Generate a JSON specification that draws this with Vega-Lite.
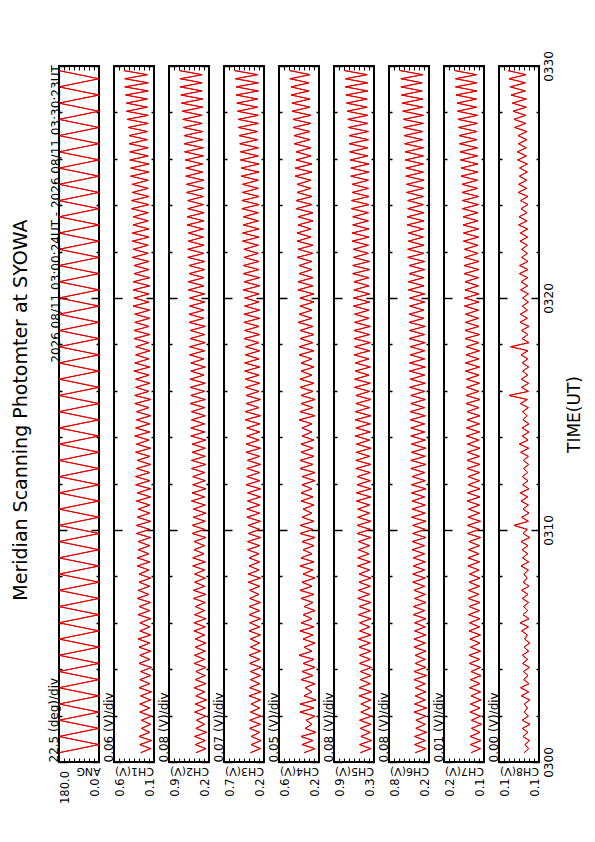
{
"$schema": "https://vega.github.io/schema/vega-lite/v6.json",
"padding": {"left": 12, "top": 49, "right": 5, "bottom": 5},
"bounds": "flush",
"spacing": 15,
"title": {"text": "Meridian Scanning Photomter at SYOWA", "orient": "left", "anchor": "middle", "font": "DejaVu Sans", "fontSize": 19, "fontWeight": "normal", "color": "black", "offset": 15, "dx": 17},
"data": {"values": [
{"t":0.40,"a":180,"c1":0.26,"c2":0.45,"c3":0.37,"c4":0.35,"c5":0.48,"c6":0.40,"c7":0.146,"c8":0.1090},
{"t":0.575,"a":90,"c1":0.14,"c2":0.29,"c3":0.23,"c4":0.24,"c5":0.31,"c6":0.23,"c7":0.127,"c8":0.1062},
{"t":0.75,"a":0,"c1":0.27,"c2":0.46,"c3":0.36,"c4":0.37,"c5":0.49,"c6":0.41,"c7":0.147,"c8":0.1084},
{"t":0.925,"a":90,"c1":0.13,"c2":0.30,"c3":0.22,"c4":0.26,"c5":0.30,"c6":0.24,"c7":0.126,"c8":0.1058},
{"t":1.10,"a":180,"c1":0.28,"c2":0.47,"c3":0.36,"c4":0.38,"c5":0.47,"c6":0.41,"c7":0.148,"c8":0.1096},
{"t":1.275,"a":90,"c1":0.15,"c2":0.28,"c3":0.24,"c4":0.23,"c5":0.32,"c6":0.22,"c7":0.128,"c8":0.1066},
{"t":1.45,"a":0,"c1":0.25,"c2":0.45,"c3":0.38,"c4":0.34,"c5":0.48,"c6":0.39,"c7":0.145,"c8":0.1100},
{"t":1.625,"a":90,"c1":0.14,"c2":0.31,"c3":0.23,"c4":0.27,"c5":0.31,"c6":0.24,"c7":0.125,"c8":0.1054},
{"t":1.80,"a":180,"c1":0.25,"c2":0.44,"c3":0.38,"c4":0.33,"c5":0.49,"c6":0.39,"c7":0.145,"c8":0.1102},
{"t":1.975,"a":90,"c1":0.13,"c2":0.29,"c3":0.22,"c4":0.24,"c5":0.30,"c6":0.23,"c7":0.127,"c8":0.1064},
{"t":2.15,"a":0,"c1":0.27,"c2":0.47,"c3":0.37,"c4":0.39,"c5":0.47,"c6":0.42,"c7":0.148,"c8":0.1088},
{"t":2.325,"a":90,"c1":0.15,"c2":0.30,"c3":0.24,"c4":0.25,"c5":0.32,"c6":0.22,"c7":0.128,"c8":0.1070},
{"t":2.50,"a":180,"c1":0.27,"c2":0.46,"c3":0.36,"c4":0.39,"c5":0.47,"c6":0.41,"c7":0.147,"c8":0.1088},
{"t":2.675,"a":90,"c1":0.14,"c2":0.28,"c3":0.23,"c4":0.23,"c5":0.31,"c6":0.24,"c7":0.126,"c8":0.1056},
{"t":2.85,"a":0,"c1":0.26,"c2":0.45,"c3":0.39,"c4":0.35,"c5":0.50,"c6":0.40,"c7":0.146,"c8":0.1106},
{"t":3.025,"a":90,"c1":0.13,"c2":0.31,"c3":0.22,"c4":0.27,"c5":0.30,"c6":0.23,"c7":0.127,"c8":0.1062},
{"t":3.20,"a":180,"c1":0.28,"c2":0.48,"c3":0.38,"c4":0.34,"c5":0.50,"c6":0.40,"c7":0.149,"c8":0.1110},
{"t":3.375,"a":90,"c1":0.15,"c2":0.29,"c3":0.24,"c4":0.24,"c5":0.32,"c6":0.24,"c7":0.128,"c8":0.1060},
{"t":3.55,"a":0,"c1":0.27,"c2":0.46,"c3":0.37,"c4":0.38,"c5":0.48,"c6":0.42,"c7":0.147,"c8":0.1092},
{"t":3.725,"a":90,"c1":0.14,"c2":0.30,"c3":0.23,"c4":0.26,"c5":0.31,"c6":0.22,"c7":0.126,"c8":0.1066},
{"t":3.90,"a":180,"c1":0.26,"c2":0.45,"c3":0.37,"c4":0.37,"c5":0.48,"c6":0.42,"c7":0.146,"c8":0.1094},
{"t":4.075,"a":90,"c1":0.13,"c2":0.29,"c3":0.22,"c4":0.24,"c5":0.30,"c6":0.23,"c7":0.127,"c8":0.1058},
{"t":4.25,"a":0,"c1":0.28,"c2":0.48,"c3":0.38,"c4":0.36,"c5":0.49,"c6":0.40,"c7":0.149,"c8":0.1098},
{"t":4.425,"a":90,"c1":0.15,"c2":0.31,"c3":0.24,"c4":0.25,"c5":0.32,"c6":0.24,"c7":0.129,"c8":0.1068},
{"t":4.60,"a":180,"c1":0.27,"c2":0.47,"c3":0.39,"c4":0.40,"c5":0.49,"c6":0.40,"c7":0.150,"c8":0.1100},
{"t":4.775,"a":90,"c1":0.14,"c2":0.30,"c3":0.23,"c4":0.27,"c5":0.31,"c6":0.23,"c7":0.127,"c8":0.1062},
{"t":4.95,"a":0,"c1":0.28,"c2":0.46,"c3":0.37,"c4":0.35,"c5":0.50,"c6":0.42,"c7":0.147,"c8":0.1090},
{"t":5.125,"a":90,"c1":0.15,"c2":0.29,"c3":0.24,"c4":0.24,"c5":0.32,"c6":0.24,"c7":0.128,"c8":0.1056},
{"t":5.30,"a":180,"c1":0.29,"c2":0.46,"c3":0.37,"c4":0.36,"c5":0.51,"c6":0.42,"c7":0.148,"c8":0.1086},
{"t":5.475,"a":90,"c1":0.14,"c2":0.31,"c3":0.23,"c4":0.26,"c5":0.31,"c6":0.23,"c7":0.127,"c8":0.1070},
{"t":5.65,"a":0,"c1":0.27,"c2":0.48,"c3":0.39,"c4":0.39,"c5":0.49,"c6":0.41,"c7":0.150,"c8":0.1104},
{"t":5.825,"a":90,"c1":0.15,"c2":0.30,"c3":0.24,"c4":0.25,"c5":0.33,"c6":0.24,"c7":0.129,"c8":0.1064},
{"t":6.00,"a":180,"c1":0.27,"c2":0.48,"c3":0.38,"c4":0.38,"c5":0.49,"c6":0.41,"c7":0.149,"c8":0.1114},
{"t":6.175,"a":90,"c1":0.14,"c2":0.29,"c3":0.23,"c4":0.27,"c5":0.31,"c6":0.23,"c7":0.128,"c8":0.1060},
{"t":6.35,"a":0,"c1":0.29,"c2":0.47,"c3":0.39,"c4":0.36,"c5":0.51,"c6":0.43,"c7":0.151,"c8":0.1096},
{"t":6.525,"a":90,"c1":0.15,"c2":0.31,"c3":0.24,"c4":0.24,"c5":0.32,"c6":0.25,"c7":0.129,"c8":0.1068},
{"t":6.70,"a":180,"c1":0.28,"c2":0.46,"c3":0.39,"c4":0.35,"c5":0.50,"c6":0.43,"c7":0.150,"c8":0.1092},
{"t":6.875,"a":90,"c1":0.14,"c2":0.30,"c3":0.23,"c4":0.26,"c5":0.31,"c6":0.23,"c7":0.128,"c8":0.1062},
{"t":7.05,"a":0,"c1":0.30,"c2":0.49,"c3":0.38,"c4":0.38,"c5":0.52,"c6":0.41,"c7":0.152,"c8":0.1100},
{"t":7.225,"a":90,"c1":0.16,"c2":0.29,"c3":0.25,"c4":0.25,"c5":0.33,"c6":0.24,"c7":0.130,"c8":0.1066},
{"t":7.40,"a":180,"c1":0.29,"c2":0.49,"c3":0.38,"c4":0.39,"c5":0.51,"c6":0.42,"c7":0.151,"c8":0.1104},
{"t":7.575,"a":90,"c1":0.15,"c2":0.31,"c3":0.24,"c4":0.27,"c5":0.32,"c6":0.25,"c7":0.129,"c8":0.1060},
{"t":7.75,"a":0,"c1":0.28,"c2":0.47,"c3":0.40,"c4":0.37,"c5":0.50,"c6":0.44,"c7":0.150,"c8":0.1094},
{"t":7.925,"a":90,"c1":0.14,"c2":0.30,"c3":0.23,"c4":0.24,"c5":0.31,"c6":0.24,"c7":0.128,"c8":0.1072},
{"t":8.10,"a":180,"c1":0.28,"c2":0.47,"c3":0.40,"c4":0.36,"c5":0.50,"c6":0.44,"c7":0.149,"c8":0.1090},
{"t":8.275,"a":90,"c1":0.16,"c2":0.31,"c3":0.25,"c4":0.26,"c5":0.33,"c6":0.25,"c7":0.130,"c8":0.1064},
{"t":8.45,"a":0,"c1":0.30,"c2":0.50,"c3":0.39,"c4":0.39,"c5":0.52,"c6":0.43,"c7":0.152,"c8":0.1108},
{"t":8.625,"a":90,"c1":0.15,"c2":0.30,"c3":0.24,"c4":0.25,"c5":0.32,"c6":0.24,"c7":0.129,"c8":0.1062},
{"t":8.80,"a":180,"c1":0.30,"c2":0.50,"c3":0.39,"c4":0.38,"c5":0.52,"c6":0.43,"c7":0.152,"c8":0.1098},
{"t":8.975,"a":90,"c1":0.16,"c2":0.32,"c3":0.25,"c4":0.27,"c5":0.34,"c6":0.25,"c7":0.130,"c8":0.1068},
{"t":9.15,"a":0,"c1":0.29,"c2":0.48,"c3":0.41,"c4":0.36,"c5":0.51,"c6":0.45,"c7":0.151,"c8":0.1102},
{"t":9.325,"a":90,"c1":0.15,"c2":0.31,"c3":0.24,"c4":0.25,"c5":0.33,"c6":0.25,"c7":0.129,"c8":0.1066},
{"t":9.50,"a":180,"c1":0.29,"c2":0.48,"c3":0.41,"c4":0.37,"c5":0.51,"c6":0.45,"c7":0.150,"c8":0.1108},
{"t":9.675,"a":90,"c1":0.14,"c2":0.29,"c3":0.23,"c4":0.24,"c5":0.31,"c6":0.23,"c7":0.127,"c8":0.1056},
{"t":9.85,"a":0,"c1":0.31,"c2":0.51,"c3":0.40,"c4":0.39,"c5":0.53,"c6":0.44,"c7":0.153,"c8":0.1096},
{"t":10.025,"a":90,"c1":0.15,"c2":0.31,"c3":0.24,"c4":0.26,"c5":0.32,"c6":0.24,"c7":0.129,"c8":0.1070},
{"t":10.20,"a":180,"c1":0.31,"c2":0.51,"c3":0.40,"c4":0.39,"c5":0.53,"c6":0.44,"c7":0.153,"c8":0.1150},
{"t":10.375,"a":90,"c1":0.14,"c2":0.30,"c3":0.23,"c4":0.25,"c5":0.31,"c6":0.23,"c7":0.127,"c8":0.1064},
{"t":10.55,"a":0,"c1":0.30,"c2":0.49,"c3":0.42,"c4":0.37,"c5":0.52,"c6":0.46,"c7":0.152,"c8":0.1104},
{"t":10.725,"a":90,"c1":0.15,"c2":0.29,"c3":0.24,"c4":0.27,"c5":0.33,"c6":0.24,"c7":0.129,"c8":0.1060},
{"t":10.90,"a":180,"c1":0.29,"c2":0.49,"c3":0.42,"c4":0.36,"c5":0.52,"c6":0.45,"c7":0.151,"c8":0.1096},
{"t":11.075,"a":90,"c1":0.15,"c2":0.30,"c3":0.24,"c4":0.25,"c5":0.33,"c6":0.24,"c7":0.129,"c8":0.1064},
{"t":11.25,"a":0,"c1":0.31,"c2":0.52,"c3":0.41,"c4":0.38,"c5":0.54,"c6":0.45,"c7":0.154,"c8":0.1108},
{"t":11.425,"a":90,"c1":0.14,"c2":0.31,"c3":0.23,"c4":0.26,"c5":0.31,"c6":0.25,"c7":0.128,"c8":0.1068},
{"t":11.60,"a":180,"c1":0.30,"c2":0.51,"c3":0.41,"c4":0.38,"c5":0.54,"c6":0.46,"c7":0.153,"c8":0.1112},
{"t":11.775,"a":90,"c1":0.14,"c2":0.29,"c3":0.23,"c4":0.27,"c5":0.31,"c6":0.23,"c7":0.128,"c8":0.1060},
{"t":11.95,"a":0,"c1":0.32,"c2":0.50,"c3":0.43,"c4":0.37,"c5":0.53,"c6":0.46,"c7":0.152,"c8":0.1098},
{"t":12.125,"a":90,"c1":0.15,"c2":0.30,"c3":0.24,"c4":0.24,"c5":0.32,"c6":0.24,"c7":0.129,"c8":0.1066},
{"t":12.30,"a":180,"c1":0.32,"c2":0.50,"c3":0.42,"c4":0.37,"c5":0.53,"c6":0.45,"c7":0.152,"c8":0.1100},
{"t":12.475,"a":90,"c1":0.15,"c2":0.31,"c3":0.24,"c4":0.24,"c5":0.32,"c6":0.25,"c7":0.129,"c8":0.1068},
{"t":12.65,"a":0,"c1":0.31,"c2":0.52,"c3":0.42,"c4":0.39,"c5":0.55,"c6":0.47,"c7":0.154,"c8":0.1092},
{"t":12.825,"a":90,"c1":0.14,"c2":0.29,"c3":0.23,"c4":0.26,"c5":0.31,"c6":0.23,"c7":0.128,"c8":0.1062},
{"t":13.00,"a":180,"c1":0.30,"c2":0.52,"c3":0.41,"c4":0.39,"c5":0.55,"c6":0.47,"c7":0.154,"c8":0.1094},
{"t":13.175,"a":90,"c1":0.15,"c2":0.30,"c3":0.24,"c4":0.25,"c5":0.33,"c6":0.24,"c7":0.129,"c8":0.1064},
{"t":13.35,"a":0,"c1":0.32,"c2":0.51,"c3":0.43,"c4":0.38,"c5":0.54,"c6":0.46,"c7":0.153,"c8":0.1110},
{"t":13.525,"a":90,"c1":0.14,"c2":0.30,"c3":0.23,"c4":0.26,"c5":0.31,"c6":0.23,"c7":0.128,"c8":0.1062},
{"t":13.70,"a":180,"c1":0.31,"c2":0.51,"c3":0.43,"c4":0.38,"c5":0.54,"c6":0.46,"c7":0.153,"c8":0.1118},
{"t":13.875,"a":90,"c1":0.16,"c2":0.29,"c3":0.25,"c4":0.25,"c5":0.33,"c6":0.24,"c7":0.130,"c8":0.1066},
{"t":14.05,"a":0,"c1":0.33,"c2":0.53,"c3":0.42,"c4":0.37,"c5":0.56,"c6":0.47,"c7":0.155,"c8":0.1100},
{"t":14.225,"a":90,"c1":0.15,"c2":0.31,"c3":0.24,"c4":0.27,"c5":0.32,"c6":0.25,"c7":0.129,"c8":0.1060},
{"t":14.40,"a":180,"c1":0.32,"c2":0.53,"c3":0.42,"c4":0.37,"c5":0.55,"c6":0.47,"c7":0.155,"c8":0.1102},
{"t":14.575,"a":90,"c1":0.15,"c2":0.31,"c3":0.24,"c4":0.27,"c5":0.32,"c6":0.25,"c7":0.129,"c8":0.1060},
{"t":14.75,"a":0,"c1":0.31,"c2":0.52,"c3":0.44,"c4":0.40,"c5":0.56,"c6":0.48,"c7":0.154,"c8":0.1096},
{"t":14.925,"a":90,"c1":0.14,"c2":0.30,"c3":0.23,"c4":0.24,"c5":0.31,"c6":0.24,"c7":0.128,"c8":0.1072},
{"t":15.10,"a":180,"c1":0.31,"c2":0.52,"c3":0.44,"c4":0.39,"c5":0.56,"c6":0.48,"c7":0.154,"c8":0.1098},
{"t":15.275,"a":90,"c1":0.16,"c2":0.31,"c3":0.25,"c4":0.26,"c5":0.33,"c6":0.25,"c7":0.130,"c8":0.1064},
{"t":15.45,"a":0,"c1":0.33,"c2":0.54,"c3":0.43,"c4":0.38,"c5":0.55,"c6":0.47,"c7":0.156,"c8":0.1112},
{"t":15.625,"a":90,"c1":0.14,"c2":0.30,"c3":0.23,"c4":0.24,"c5":0.31,"c6":0.24,"c7":0.128,"c8":0.1070},
{"t":15.80,"a":180,"c1":0.33,"c2":0.53,"c3":0.43,"c4":0.38,"c5":0.55,"c6":0.47,"c7":0.156,"c8":0.1180},
{"t":15.975,"a":90,"c1":0.16,"c2":0.31,"c3":0.25,"c4":0.26,"c5":0.33,"c6":0.25,"c7":0.130,"c8":0.1064},
{"t":16.15,"a":0,"c1":0.32,"c2":0.54,"c3":0.44,"c4":0.39,"c5":0.57,"c6":0.49,"c7":0.155,"c8":0.1104},
{"t":16.325,"a":90,"c1":0.15,"c2":0.30,"c3":0.24,"c4":0.25,"c5":0.32,"c6":0.24,"c7":0.129,"c8":0.1062},
{"t":16.50,"a":180,"c1":0.32,"c2":0.54,"c3":0.44,"c4":0.39,"c5":0.57,"c6":0.48,"c7":0.155,"c8":0.1106},
{"t":16.675,"a":90,"c1":0.16,"c2":0.32,"c3":0.25,"c4":0.27,"c5":0.34,"c6":0.25,"c7":0.130,"c8":0.1068},
{"t":16.85,"a":0,"c1":0.34,"c2":0.53,"c3":0.45,"c4":0.38,"c5":0.56,"c6":0.49,"c7":0.157,"c8":0.1098},
{"t":17.025,"a":90,"c1":0.15,"c2":0.30,"c3":0.24,"c4":0.25,"c5":0.32,"c6":0.24,"c7":0.129,"c8":0.1062},
{"t":17.20,"a":180,"c1":0.33,"c2":0.53,"c3":0.45,"c4":0.38,"c5":0.56,"c6":0.49,"c7":0.157,"c8":0.1100},
{"t":17.375,"a":90,"c1":0.16,"c2":0.32,"c3":0.25,"c4":0.27,"c5":0.34,"c6":0.25,"c7":0.130,"c8":0.1068},
{"t":17.55,"a":0,"c1":0.32,"c2":0.55,"c3":0.44,"c4":0.40,"c5":0.58,"c6":0.48,"c7":0.156,"c8":0.1108},
{"t":17.725,"a":90,"c1":0.15,"c2":0.31,"c3":0.24,"c4":0.25,"c5":0.33,"c6":0.25,"c7":0.129,"c8":0.1066},
{"t":17.90,"a":180,"c1":0.32,"c2":0.55,"c3":0.44,"c4":0.40,"c5":0.57,"c6":0.48,"c7":0.156,"c8":0.1170},
{"t":18.075,"a":90,"c1":0.16,"c2":0.30,"c3":0.25,"c4":0.26,"c5":0.32,"c6":0.24,"c7":0.130,"c8":0.1060},
{"t":18.25,"a":0,"c1":0.34,"c2":0.54,"c3":0.46,"c4":0.39,"c5":0.58,"c6":0.50,"c7":0.158,"c8":0.1102},
{"t":18.425,"a":90,"c1":0.15,"c2":0.31,"c3":0.24,"c4":0.25,"c5":0.33,"c6":0.25,"c7":0.129,"c8":0.1066},
{"t":18.60,"a":180,"c1":0.34,"c2":0.54,"c3":0.45,"c4":0.39,"c5":0.58,"c6":0.49,"c7":0.158,"c8":0.1104},
{"t":18.775,"a":90,"c1":0.16,"c2":0.30,"c3":0.25,"c4":0.26,"c5":0.32,"c6":0.24,"c7":0.130,"c8":0.1060},
{"t":18.95,"a":0,"c1":0.33,"c2":0.56,"c3":0.46,"c4":0.41,"c5":0.57,"c6":0.50,"c7":0.157,"c8":0.1114},
{"t":19.125,"a":90,"c1":0.15,"c2":0.32,"c3":0.24,"c4":0.27,"c5":0.34,"c6":0.26,"c7":0.131,"c8":0.1070},
{"t":19.30,"a":180,"c1":0.33,"c2":0.56,"c3":0.46,"c4":0.40,"c5":0.57,"c6":0.50,"c7":0.157,"c8":0.1112},
{"t":19.475,"a":90,"c1":0.15,"c2":0.32,"c3":0.24,"c4":0.27,"c5":0.34,"c6":0.26,"c7":0.131,"c8":0.1070},
{"t":19.65,"a":0,"c1":0.35,"c2":0.55,"c3":0.45,"c4":0.39,"c5":0.59,"c6":0.49,"c7":0.159,"c8":0.1100},
{"t":19.825,"a":90,"c1":0.16,"c2":0.31,"c3":0.25,"c4":0.25,"c5":0.33,"c6":0.25,"c7":0.130,"c8":0.1064},
{"t":20.00,"a":180,"c1":0.34,"c2":0.55,"c3":0.45,"c4":0.39,"c5":0.59,"c6":0.49,"c7":0.159,"c8":0.1098},
{"t":20.175,"a":90,"c1":0.16,"c2":0.31,"c3":0.25,"c4":0.25,"c5":0.33,"c6":0.25,"c7":0.130,"c8":0.1064},
{"t":20.35,"a":0,"c1":0.35,"c2":0.57,"c3":0.47,"c4":0.41,"c5":0.58,"c6":0.51,"c7":0.158,"c8":0.1110},
{"t":20.525,"a":90,"c1":0.15,"c2":0.32,"c3":0.24,"c4":0.26,"c5":0.34,"c6":0.26,"c7":0.131,"c8":0.1068},
{"t":20.70,"a":180,"c1":0.35,"c2":0.57,"c3":0.46,"c4":0.41,"c5":0.58,"c6":0.51,"c7":0.158,"c8":0.1108},
{"t":20.875,"a":90,"c1":0.15,"c2":0.32,"c3":0.24,"c4":0.26,"c5":0.34,"c6":0.26,"c7":0.131,"c8":0.1068},
{"t":21.05,"a":0,"c1":0.34,"c2":0.56,"c3":0.47,"c4":0.40,"c5":0.60,"c6":0.50,"c7":0.160,"c8":0.1118},
{"t":21.225,"a":90,"c1":0.16,"c2":0.31,"c3":0.25,"c4":0.27,"c5":0.33,"c6":0.25,"c7":0.130,"c8":0.1066},
{"t":21.40,"a":180,"c1":0.34,"c2":0.56,"c3":0.47,"c4":0.40,"c5":0.60,"c6":0.50,"c7":0.160,"c8":0.1116},
{"t":21.575,"a":90,"c1":0.16,"c2":0.31,"c3":0.25,"c4":0.27,"c5":0.33,"c6":0.25,"c7":0.130,"c8":0.1066},
{"t":21.75,"a":0,"c1":0.36,"c2":0.58,"c3":0.46,"c4":0.42,"c5":0.59,"c6":0.52,"c7":0.159,"c8":0.1104},
{"t":21.925,"a":90,"c1":0.17,"c2":0.32,"c3":0.26,"c4":0.26,"c5":0.35,"c6":0.26,"c7":0.132,"c8":0.1070},
{"t":22.10,"a":180,"c1":0.35,"c2":0.58,"c3":0.46,"c4":0.41,"c5":0.59,"c6":0.52,"c7":0.159,"c8":0.1104},
{"t":22.275,"a":90,"c1":0.17,"c2":0.32,"c3":0.26,"c4":0.26,"c5":0.35,"c6":0.26,"c7":0.132,"c8":0.1070},
{"t":22.45,"a":0,"c1":0.36,"c2":0.57,"c3":0.48,"c4":0.42,"c5":0.61,"c6":0.51,"c7":0.161,"c8":0.1114},
{"t":22.625,"a":90,"c1":0.16,"c2":0.33,"c3":0.25,"c4":0.28,"c5":0.34,"c6":0.27,"c7":0.131,"c8":0.1068},
{"t":22.80,"a":180,"c1":0.36,"c2":0.57,"c3":0.48,"c4":0.42,"c5":0.61,"c6":0.51,"c7":0.161,"c8":0.1112},
{"t":22.975,"a":90,"c1":0.16,"c2":0.33,"c3":0.25,"c4":0.28,"c5":0.34,"c6":0.27,"c7":0.131,"c8":0.1068},
{"t":23.15,"a":0,"c1":0.35,"c2":0.59,"c3":0.47,"c4":0.41,"c5":0.60,"c6":0.53,"c7":0.162,"c8":0.1122},
{"t":23.325,"a":90,"c1":0.17,"c2":0.32,"c3":0.26,"c4":0.26,"c5":0.35,"c6":0.26,"c7":0.132,"c8":0.1072},
{"t":23.50,"a":180,"c1":0.35,"c2":0.59,"c3":0.47,"c4":0.41,"c5":0.60,"c6":0.53,"c7":0.162,"c8":0.1120},
{"t":23.675,"a":90,"c1":0.17,"c2":0.32,"c3":0.26,"c4":0.26,"c5":0.35,"c6":0.26,"c7":0.132,"c8":0.1072},
{"t":23.85,"a":0,"c1":0.37,"c2":0.58,"c3":0.49,"c4":0.43,"c5":0.62,"c6":0.52,"c7":0.163,"c8":0.1108},
{"t":24.025,"a":90,"c1":0.16,"c2":0.33,"c3":0.25,"c4":0.27,"c5":0.34,"c6":0.27,"c7":0.131,"c8":0.1066},
{"t":24.20,"a":180,"c1":0.37,"c2":0.58,"c3":0.49,"c4":0.43,"c5":0.62,"c6":0.52,"c7":0.163,"c8":0.1110},
{"t":24.375,"a":90,"c1":0.16,"c2":0.33,"c3":0.25,"c4":0.27,"c5":0.34,"c6":0.27,"c7":0.131,"c8":0.1066},
{"t":24.55,"a":0,"c1":0.36,"c2":0.60,"c3":0.48,"c4":0.42,"c5":0.61,"c6":0.54,"c7":0.164,"c8":0.1124},
{"t":24.725,"a":90,"c1":0.17,"c2":0.32,"c3":0.26,"c4":0.28,"c5":0.35,"c6":0.26,"c7":0.133,"c8":0.1074},
{"t":24.90,"a":180,"c1":0.36,"c2":0.60,"c3":0.48,"c4":0.42,"c5":0.61,"c6":0.54,"c7":0.164,"c8":0.1122},
{"t":25.075,"a":90,"c1":0.17,"c2":0.32,"c3":0.26,"c4":0.28,"c5":0.35,"c6":0.26,"c7":0.133,"c8":0.1074},
{"t":25.25,"a":0,"c1":0.38,"c2":0.61,"c3":0.50,"c4":0.44,"c5":0.63,"c6":0.55,"c7":0.166,"c8":0.1118},
{"t":25.425,"a":90,"c1":0.16,"c2":0.34,"c3":0.25,"c4":0.27,"c5":0.34,"c6":0.27,"c7":0.132,"c8":0.1070},
{"t":25.60,"a":180,"c1":0.38,"c2":0.61,"c3":0.50,"c4":0.44,"c5":0.63,"c6":0.55,"c7":0.166,"c8":0.1116},
{"t":25.775,"a":90,"c1":0.16,"c2":0.34,"c3":0.25,"c4":0.27,"c5":0.34,"c6":0.27,"c7":0.132,"c8":0.1070},
{"t":25.95,"a":0,"c1":0.39,"c2":0.62,"c3":0.51,"c4":0.43,"c5":0.64,"c6":0.56,"c7":0.167,"c8":0.1128},
{"t":26.125,"a":90,"c1":0.17,"c2":0.33,"c3":0.26,"c4":0.28,"c5":0.36,"c6":0.27,"c7":0.133,"c8":0.1076},
{"t":26.30,"a":180,"c1":0.39,"c2":0.63,"c3":0.51,"c4":0.43,"c5":0.65,"c6":0.56,"c7":0.168,"c8":0.1130},
{"t":26.475,"a":90,"c1":0.17,"c2":0.33,"c3":0.26,"c4":0.28,"c5":0.36,"c6":0.27,"c7":0.133,"c8":0.1076},
{"t":26.65,"a":0,"c1":0.40,"c2":0.64,"c3":0.52,"c4":0.45,"c5":0.66,"c6":0.57,"c7":0.169,"c8":0.1124},
{"t":26.825,"a":90,"c1":0.18,"c2":0.34,"c3":0.27,"c4":0.29,"c5":0.35,"c6":0.28,"c7":0.134,"c8":0.1072},
{"t":27.00,"a":180,"c1":0.40,"c2":0.64,"c3":0.53,"c4":0.45,"c5":0.66,"c6":0.58,"c7":0.170,"c8":0.1126},
{"t":27.175,"a":90,"c1":0.18,"c2":0.34,"c3":0.27,"c4":0.29,"c5":0.35,"c6":0.28,"c7":0.134,"c8":0.1072},
{"t":27.35,"a":0,"c1":0.41,"c2":0.65,"c3":0.54,"c4":0.46,"c5":0.67,"c6":0.59,"c7":0.171,"c8":0.1146},
{"t":27.525,"a":90,"c1":0.17,"c2":0.35,"c3":0.26,"c4":0.28,"c5":0.36,"c6":0.27,"c7":0.133,"c8":0.1080},
{"t":27.70,"a":180,"c1":0.42,"c2":0.66,"c3":0.54,"c4":0.46,"c5":0.68,"c6":0.59,"c7":0.172,"c8":0.1150},
{"t":27.875,"a":90,"c1":0.17,"c2":0.35,"c3":0.26,"c4":0.28,"c5":0.36,"c6":0.27,"c7":0.133,"c8":0.1080},
{"t":28.05,"a":0,"c1":0.43,"c2":0.67,"c3":0.55,"c4":0.47,"c5":0.69,"c6":0.60,"c7":0.173,"c8":0.1156},
{"t":28.225,"a":90,"c1":0.18,"c2":0.34,"c3":0.27,"c4":0.29,"c5":0.37,"c6":0.28,"c7":0.135,"c8":0.1076},
{"t":28.40,"a":180,"c1":0.43,"c2":0.68,"c3":0.56,"c4":0.47,"c5":0.70,"c6":0.61,"c7":0.174,"c8":0.1160},
{"t":28.575,"a":90,"c1":0.18,"c2":0.34,"c3":0.27,"c4":0.29,"c5":0.37,"c6":0.28,"c7":0.135,"c8":0.1076},
{"t":28.75,"a":0,"c1":0.44,"c2":0.69,"c3":0.57,"c4":0.48,"c5":0.71,"c6":0.62,"c7":0.176,"c8":0.1168},
{"t":28.925,"a":90,"c1":0.17,"c2":0.35,"c3":0.26,"c4":0.30,"c5":0.36,"c6":0.29,"c7":0.134,"c8":0.1082},
{"t":29.10,"a":180,"c1":0.45,"c2":0.70,"c3":0.57,"c4":0.48,"c5":0.72,"c6":0.63,"c7":0.177,"c8":0.1172},
{"t":29.275,"a":90,"c1":0.17,"c2":0.35,"c3":0.26,"c4":0.30,"c5":0.36,"c6":0.29,"c7":0.134,"c8":0.1082},
{"t":29.45,"a":0,"c1":0.45,"c2":0.70,"c3":0.58,"c4":0.49,"c5":0.72,"c6":0.63,"c7":0.177,"c8":0.1180},
{"t":29.625,"a":90,"c1":0.18,"c2":0.35,"c3":0.27,"c4":0.29,"c5":0.37,"c6":0.28,"c7":0.135,"c8":0.1078},
{"t":29.80,"a":180,"c1":0.46,"c2":0.71,"c3":0.59,"c4":0.49,"c5":0.73,"c6":0.64,"c7":0.178,"c8":0.1186}
]},
"hconcat": [
{"width": 40, "height": 696,
 "title": {"text": "2026 08/11 03:00:24UT - 2026 08/11 03:30:23UT", "orient": "left", "anchor": "end", "fontSize": 12, "fontWeight": "normal", "font": "DejaVu Sans", "color": "black", "offset": -16},
 "layer": [
  {"mark": {"type": "line", "color": "#e60000", "strokeWidth": 1, "clip": true},
   "encoding": {
    "x": {"field": "a", "type": "quantitative", "scale": {"domain": [0, 180], "reverse": true, "nice": false, "zero": false},
     "axis": {"orient": "bottom", "values": [0, 22.5, 45, 67.5, 90, 112.5, 135, 157.5, 180], "labelExpr": "datum.value == 180 || datum.value == 0 ? format(datum.value, '.1f') : ''", "labelOffset": {"condition": {"test": "datum.value == 180", "value": 6}, "value": -4}, "title": "ANG", "titleAngle": 180, "titleBaseline": "middle", "titleAlign": "center", "titleX": 29, "titleY": 8}},
    "y": {"field": "t", "type": "quantitative", "scale": {"domain": [0, 30], "nice": false, "zero": false},
     "axis": {"orient": "left", "title": "22.5 (deg)/div"}},
    "order": {"field": "t"}}},
  {"mark": {"type": "line", "color": "#e60000", "strokeWidth": 1, "clip": true},
   "encoding": {
    "x": {"field": "a", "type": "quantitative", "scale": {"domain": [0, 180], "reverse": true, "nice": false, "zero": false},
     "axis": {"orient": "top", "values": [0, 22.5, 45, 67.5, 90, 112.5, 135, 157.5, 180], "labels": false, "title": null}},
    "y": {"field": "t", "type": "quantitative", "scale": {"domain": [0, 30], "nice": false, "zero": false},
     "axis": {"orient": "right", "title": null}},
    "order": {"field": "t"}}}
 ],
 "resolve": {"axis": {"x": "independent", "y": "independent"}}},
{"width": 40, "height": 696,
 "layer": [
  {"mark": {"type": "line", "color": "#e60000", "strokeWidth": 1, "clip": true},
   "encoding": {
    "x": {"field": "c1", "type": "quantitative", "scale": {"domain": [0.1, 0.58], "reverse": true, "nice": false, "zero": false},
     "axis": {"orient": "bottom", "values": [0.1, 0.16, 0.22, 0.28, 0.34, 0.4, 0.46, 0.52, 0.58], "labelExpr": "datum.value == 0.58 || datum.value == 0.1 ? format(datum.value, '.1f') : ''", "labelOffset": {"condition": {"test": "datum.value == 0.58", "value": 6}, "value": -4}, "title": "CH1(V)", "titleAngle": 180, "titleBaseline": "middle", "titleAlign": "center", "titleX": 20, "titleY": 8}},
    "y": {"field": "t", "type": "quantitative", "scale": {"domain": [0, 30], "nice": false, "zero": false},
     "axis": {"orient": "left", "title": "0.06 (V)/div"}},
    "order": {"field": "t"}}},
  {"mark": {"type": "line", "color": "#e60000", "strokeWidth": 1, "clip": true},
   "encoding": {
    "x": {"field": "c1", "type": "quantitative", "scale": {"domain": [0.1, 0.58], "reverse": true, "nice": false, "zero": false},
     "axis": {"orient": "top", "values": [0.1, 0.16, 0.22, 0.28, 0.34, 0.4, 0.46, 0.52, 0.58], "labels": false, "title": null}},
    "y": {"field": "t", "type": "quantitative", "scale": {"domain": [0, 30], "nice": false, "zero": false},
     "axis": {"orient": "right", "title": null}},
    "order": {"field": "t"}}}
 ],
 "resolve": {"axis": {"x": "independent", "y": "independent"}}},
{"width": 40, "height": 696,
 "layer": [
  {"mark": {"type": "line", "color": "#e60000", "strokeWidth": 1, "clip": true},
   "encoding": {
    "x": {"field": "c2", "type": "quantitative", "scale": {"domain": [0.24, 0.88], "reverse": true, "nice": false, "zero": false},
     "axis": {"orient": "bottom", "values": [0.24, 0.32, 0.4, 0.48, 0.56, 0.64, 0.72, 0.8, 0.88], "labelExpr": "datum.value == 0.88 || datum.value == 0.24 ? format(datum.value, '.1f') : ''", "labelOffset": {"condition": {"test": "datum.value == 0.88", "value": 6}, "value": -4}, "title": "CH2(V)", "titleAngle": 180, "titleBaseline": "middle", "titleAlign": "center", "titleX": 20, "titleY": 8}},
    "y": {"field": "t", "type": "quantitative", "scale": {"domain": [0, 30], "nice": false, "zero": false},
     "axis": {"orient": "left", "title": "0.08 (V)/div"}},
    "order": {"field": "t"}}},
  {"mark": {"type": "line", "color": "#e60000", "strokeWidth": 1, "clip": true},
   "encoding": {
    "x": {"field": "c2", "type": "quantitative", "scale": {"domain": [0.24, 0.88], "reverse": true, "nice": false, "zero": false},
     "axis": {"orient": "top", "values": [0.24, 0.32, 0.4, 0.48, 0.56, 0.64, 0.72, 0.8, 0.88], "labels": false, "title": null}},
    "y": {"field": "t", "type": "quantitative", "scale": {"domain": [0, 30], "nice": false, "zero": false},
     "axis": {"orient": "right", "title": null}},
    "order": {"field": "t"}}}
 ],
 "resolve": {"axis": {"x": "independent", "y": "independent"}}},
{"width": 40, "height": 696,
 "layer": [
  {"mark": {"type": "line", "color": "#e60000", "strokeWidth": 1, "clip": true},
   "encoding": {
    "x": {"field": "c3", "type": "quantitative", "scale": {"domain": [0.18, 0.74], "reverse": true, "nice": false, "zero": false},
     "axis": {"orient": "bottom", "values": [0.18, 0.25, 0.32, 0.39, 0.46, 0.53, 0.6, 0.67, 0.74], "labelExpr": "datum.value == 0.74 || datum.value == 0.18 ? format(datum.value, '.1f') : ''", "labelOffset": {"condition": {"test": "datum.value == 0.74", "value": 6}, "value": -4}, "title": "CH3(V)", "titleAngle": 180, "titleBaseline": "middle", "titleAlign": "center", "titleX": 20, "titleY": 8}},
    "y": {"field": "t", "type": "quantitative", "scale": {"domain": [0, 30], "nice": false, "zero": false},
     "axis": {"orient": "left", "title": "0.07 (V)/div"}},
    "order": {"field": "t"}}},
  {"mark": {"type": "line", "color": "#e60000", "strokeWidth": 1, "clip": true},
   "encoding": {
    "x": {"field": "c3", "type": "quantitative", "scale": {"domain": [0.18, 0.74], "reverse": true, "nice": false, "zero": false},
     "axis": {"orient": "top", "values": [0.18, 0.25, 0.32, 0.39, 0.46, 0.53, 0.6, 0.67, 0.74], "labels": false, "title": null}},
    "y": {"field": "t", "type": "quantitative", "scale": {"domain": [0, 30], "nice": false, "zero": false},
     "axis": {"orient": "right", "title": null}},
    "order": {"field": "t"}}}
 ],
 "resolve": {"axis": {"x": "independent", "y": "independent"}}},
{"width": 40, "height": 696,
 "layer": [
  {"mark": {"type": "line", "color": "#e60000", "strokeWidth": 1, "clip": true},
   "encoding": {
    "x": {"field": "c4", "type": "quantitative", "scale": {"domain": [0.2, 0.6], "reverse": true, "nice": false, "zero": false},
     "axis": {"orient": "bottom", "values": [0.2, 0.25, 0.3, 0.35, 0.4, 0.45, 0.5, 0.55, 0.6], "labelExpr": "datum.value == 0.6 || datum.value == 0.2 ? format(datum.value, '.1f') : ''", "labelOffset": {"condition": {"test": "datum.value == 0.6", "value": 6}, "value": -4}, "title": "CH4(V)", "titleAngle": 180, "titleBaseline": "middle", "titleAlign": "center", "titleX": 20, "titleY": 8}},
    "y": {"field": "t", "type": "quantitative", "scale": {"domain": [0, 30], "nice": false, "zero": false},
     "axis": {"orient": "left", "title": "0.05 (V)/div"}},
    "order": {"field": "t"}}},
  {"mark": {"type": "line", "color": "#e60000", "strokeWidth": 1, "clip": true},
   "encoding": {
    "x": {"field": "c4", "type": "quantitative", "scale": {"domain": [0.2, 0.6], "reverse": true, "nice": false, "zero": false},
     "axis": {"orient": "top", "values": [0.2, 0.25, 0.3, 0.35, 0.4, 0.45, 0.5, 0.55, 0.6], "labels": false, "title": null}},
    "y": {"field": "t", "type": "quantitative", "scale": {"domain": [0, 30], "nice": false, "zero": false},
     "axis": {"orient": "right", "title": null}},
    "order": {"field": "t"}}}
 ],
 "resolve": {"axis": {"x": "independent", "y": "independent"}}},
{"width": 40, "height": 696,
 "layer": [
  {"mark": {"type": "line", "color": "#e60000", "strokeWidth": 1, "clip": true},
   "encoding": {
    "x": {"field": "c5", "type": "quantitative", "scale": {"domain": [0.26, 0.9], "reverse": true, "nice": false, "zero": false},
     "axis": {"orient": "bottom", "values": [0.26, 0.34, 0.42, 0.5, 0.58, 0.66, 0.74, 0.82, 0.9], "labelExpr": "datum.value == 0.9 || datum.value == 0.26 ? format(datum.value, '.1f') : ''", "labelOffset": {"condition": {"test": "datum.value == 0.9", "value": 6}, "value": -4}, "title": "CH5(V)", "titleAngle": 180, "titleBaseline": "middle", "titleAlign": "center", "titleX": 20, "titleY": 8}},
    "y": {"field": "t", "type": "quantitative", "scale": {"domain": [0, 30], "nice": false, "zero": false},
     "axis": {"orient": "left", "title": "0.08 (V)/div"}},
    "order": {"field": "t"}}},
  {"mark": {"type": "line", "color": "#e60000", "strokeWidth": 1, "clip": true},
   "encoding": {
    "x": {"field": "c5", "type": "quantitative", "scale": {"domain": [0.26, 0.9], "reverse": true, "nice": false, "zero": false},
     "axis": {"orient": "top", "values": [0.26, 0.34, 0.42, 0.5, 0.58, 0.66, 0.74, 0.82, 0.9], "labels": false, "title": null}},
    "y": {"field": "t", "type": "quantitative", "scale": {"domain": [0, 30], "nice": false, "zero": false},
     "axis": {"orient": "right", "title": null}},
    "order": {"field": "t"}}}
 ],
 "resolve": {"axis": {"x": "independent", "y": "independent"}}},
{"width": 40, "height": 696,
 "layer": [
  {"mark": {"type": "line", "color": "#e60000", "strokeWidth": 1, "clip": true},
   "encoding": {
    "x": {"field": "c6", "type": "quantitative", "scale": {"domain": [0.18, 0.82], "reverse": true, "nice": false, "zero": false},
     "axis": {"orient": "bottom", "values": [0.18, 0.26, 0.34, 0.42, 0.5, 0.58, 0.66, 0.74, 0.82], "labelExpr": "datum.value == 0.82 || datum.value == 0.18 ? format(datum.value, '.1f') : ''", "labelOffset": {"condition": {"test": "datum.value == 0.82", "value": 6}, "value": -4}, "title": "CH6(V)", "titleAngle": 180, "titleBaseline": "middle", "titleAlign": "center", "titleX": 20, "titleY": 8}},
    "y": {"field": "t", "type": "quantitative", "scale": {"domain": [0, 30], "nice": false, "zero": false},
     "axis": {"orient": "left", "title": "0.08 (V)/div"}},
    "order": {"field": "t"}}},
  {"mark": {"type": "line", "color": "#e60000", "strokeWidth": 1, "clip": true},
   "encoding": {
    "x": {"field": "c6", "type": "quantitative", "scale": {"domain": [0.18, 0.82], "reverse": true, "nice": false, "zero": false},
     "axis": {"orient": "top", "values": [0.18, 0.26, 0.34, 0.42, 0.5, 0.58, 0.66, 0.74, 0.82], "labels": false, "title": null}},
    "y": {"field": "t", "type": "quantitative", "scale": {"domain": [0, 30], "nice": false, "zero": false},
     "axis": {"orient": "right", "title": null}},
    "order": {"field": "t"}}}
 ],
 "resolve": {"axis": {"x": "independent", "y": "independent"}}},
{"width": 40, "height": 696,
 "layer": [
  {"mark": {"type": "line", "color": "#e60000", "strokeWidth": 1, "clip": true},
   "encoding": {
    "x": {"field": "c7", "type": "quantitative", "scale": {"domain": [0.12, 0.2], "reverse": true, "nice": false, "zero": false},
     "axis": {"orient": "bottom", "values": [0.12, 0.13, 0.14, 0.15, 0.16, 0.17, 0.18, 0.19, 0.2], "labelExpr": "datum.value == 0.2 || datum.value == 0.12 ? format(datum.value, '.1f') : ''", "labelOffset": {"condition": {"test": "datum.value == 0.2", "value": 6}, "value": -4}, "title": "CH7(V)", "titleAngle": 180, "titleBaseline": "middle", "titleAlign": "center", "titleX": 20, "titleY": 8}},
    "y": {"field": "t", "type": "quantitative", "scale": {"domain": [0, 30], "nice": false, "zero": false},
     "axis": {"orient": "left", "title": "0.01 (V)/div"}},
    "order": {"field": "t"}}},
  {"mark": {"type": "line", "color": "#e60000", "strokeWidth": 1, "clip": true},
   "encoding": {
    "x": {"field": "c7", "type": "quantitative", "scale": {"domain": [0.12, 0.2], "reverse": true, "nice": false, "zero": false},
     "axis": {"orient": "top", "values": [0.12, 0.13, 0.14, 0.15, 0.16, 0.17, 0.18, 0.19, 0.2], "labels": false, "title": null}},
    "y": {"field": "t", "type": "quantitative", "scale": {"domain": [0, 30], "nice": false, "zero": false},
     "axis": {"orient": "right", "title": null}},
    "order": {"field": "t"}}}
 ],
 "resolve": {"axis": {"x": "independent", "y": "independent"}}},
{"width": 40, "height": 696,
 "layer": [
  {"mark": {"type": "line", "color": "#e60000", "strokeWidth": 1, "clip": true},
   "encoding": {
    "x": {"field": "c8", "type": "quantitative", "scale": {"domain": [0.1, 0.124], "reverse": true, "nice": false, "zero": false},
     "axis": {"orient": "bottom", "values": [0.1, 0.103, 0.106, 0.109, 0.112, 0.115, 0.118, 0.121, 0.124], "labelExpr": "datum.value == 0.124 || datum.value == 0.1 ? format(datum.value, '.1f') : ''", "labelOffset": {"condition": {"test": "datum.value == 0.124", "value": 6}, "value": -4}, "title": "CH8(V)", "titleAngle": 180, "titleBaseline": "middle", "titleAlign": "center", "titleX": 20, "titleY": 8}},
    "y": {"field": "t", "type": "quantitative", "scale": {"domain": [0, 30], "nice": false, "zero": false},
     "axis": {"orient": "left", "title": "0.00 (V)/div"}},
    "order": {"field": "t"}}},
  {"mark": {"type": "line", "color": "#e60000", "strokeWidth": 1, "clip": true},
   "encoding": {
    "x": {"field": "c8", "type": "quantitative", "scale": {"domain": [0.1, 0.124], "reverse": true, "nice": false, "zero": false},
     "axis": {"orient": "top", "values": [0.1, 0.103, 0.106, 0.109, 0.112, 0.115, 0.118, 0.121, 0.124], "labels": false, "title": null}},
    "y": {"field": "t", "type": "quantitative", "scale": {"domain": [0, 30], "nice": false, "zero": false},
     "axis": {"orient": "right", "labels": true, "labelExpr": "datum.value == 0 ? '0300' : datum.value == 10 ? '0310' : datum.value == 20 ? '0320' : datum.value == 30 ? '0330' : ''", "labelAngle": 270, "labelAlign": "center", "labelBaseline": "middle", "labelPadding": 17, "labelFontSize": 12, "title": "TIME(UT)", "titleAngle": 270, "titleFontSize": 17, "titleAnchor": "middle", "titleBaseline": "top", "titlePadding": 7}},
    "order": {"field": "t"}}}
 ],
 "resolve": {"axis": {"x": "independent", "y": "independent"}}}
],
"config": {
 "font": "DejaVu Sans",
 "view": {"stroke": "black", "strokeWidth": 2},
 "axis": {"domain": false, "grid": false, "labelFont": "DejaVu Sans", "titleFont": "DejaVu Sans", "labelColor": "black", "titleColor": "black", "titleFontWeight": "normal", "tickColor": "black", "labelOverlap": false, "labelFlush": false},
 "axisBottom": {"tickSize": -4, "tickWidth": 1, "labelAngle": 270, "labelAlign": "center", "labelBaseline": "middle", "labelPadding": 29, "labelFontSize": 11.5, "titleFontSize": 11},
 "axisTop": {"tickSize": -4, "tickWidth": 1},
 "axisLeft": {"values": [0,1,2,3,4,5,6,7,8,9,10,11,12,13,14,15,16,17,18,19,20,21,22,23,24,25,26,27,28,29,30], "labels": false, "tickSize": {"condition": {"test": "datum.value % 10 === 0", "value": -8}, "value": -3}, "tickWidth": 1.5, "titleAngle": 270, "titleAnchor": "start", "titleAlign": "left", "titleBaseline": "bottom", "titlePadding": -2, "titleFontSize": 12},
 "axisRight": {"values": [0,1,2,3,4,5,6,7,8,9,10,11,12,13,14,15,16,17,18,19,20,21,22,23,24,25,26,27,28,29,30], "labels": false, "tickSize": {"condition": {"test": "datum.value % 10 === 0", "value": -8}, "value": -3}, "tickWidth": 1.5}
}
}
